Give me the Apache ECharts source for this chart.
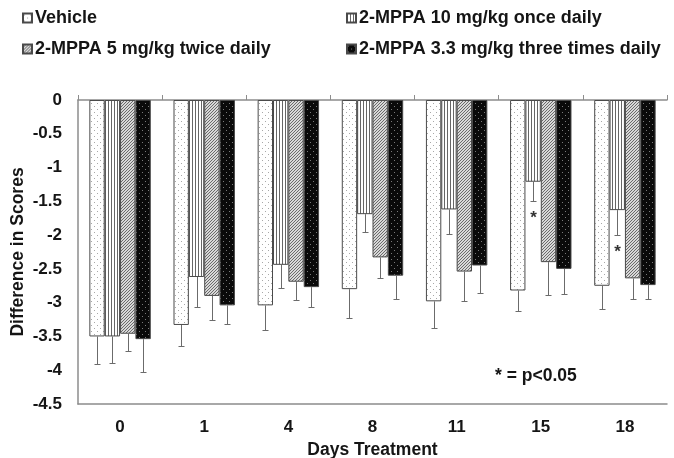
<!DOCTYPE html>
<html>
<head>
<meta charset="utf-8">
<script src="https://cdn.jsdelivr.net/npm/echarts/dist/echarts.min.js"></script>
<style>
html,body{margin:0;padding:0;background:#fff;overflow:hidden;}
#chart{width:674px;height:458px;}
</style>
</head>
<body>
<div id="chart"></div>
<script>
// ---- data ----
var days = ['0', '1', '4', '8', '11', '15', '18'];
var seriesNames = ['Vehicle', '2-MPPA 10 mg/kg once daily', '2-MPPA 5 mg/kg twice daily', '2-MPPA 3.3 mg/kg three times daily'];
var vehicle     = [-3.50, -3.33, -3.04, -2.80, -2.98, -2.82, -2.75];
var vehicleErr  = [0.41, 0.31, 0.36, 0.42, 0.39, 0.31, 0.34];
var once        = [-3.50, -2.62, -2.44, -1.69, -1.62, -1.21, -1.63];
var onceErr     = [0.39, 0.44, 0.34, 0.27, 0.37, 0.28, 0.37];
var twice       = [-3.46, -2.90, -2.69, -2.33, -2.54, -2.40, -2.64];
var twiceErr    = [0.26, 0.36, 0.27, 0.30, 0.43, 0.48, 0.30];
var thrice      = [-3.54, -3.04, -2.77, -2.60, -2.45, -2.50, -2.74];
var thriceErr   = [0.49, 0.28, 0.30, 0.35, 0.41, 0.37, 0.20];
var vehicleSig  = [0, 0, 0, 0, 0, 0, 0];
var onceSig     = [0, 0, 0, 0, 0, 1, 1];
var twiceSig    = [0, 0, 0, 0, 0, 0, 0];
var thriceSig   = [0, 0, 0, 0, 0, 0, 0];
var yTicks = {min: -4.5, max: 0, interval: 0.5};
var noteText = '* = p<0.05';

var allValues = [vehicle, once, twice, thrice];
var allErrs = [vehicleErr, onceErr, twiceErr, thriceErr];
var allSig = [vehicleSig, onceSig, twiceSig, thriceSig];

// ---- patterns ----
function makeTile(w, h, bg, draw) {
  var c = document.createElement('canvas');
  c.width = w; c.height = h;
  var ctx = c.getContext('2d');
  ctx.fillStyle = bg; ctx.fillRect(0, 0, w, h);
  draw(ctx);
  return c;
}
var patVehicle = makeTile(6, 6, '#ffffff', function (ctx) {
  ctx.fillStyle = '#a8a8a8';
  ctx.fillRect(1, 1, 1, 1); ctx.fillRect(4, 4, 1, 1);
});
var patOnce = makeTile(3, 2, '#ffffff', function (ctx) {
  ctx.fillStyle = '#666666';
  ctx.fillRect(0, 0, 1, 2);
});
var patTwice = makeTile(3, 3, '#d8d8d8', function (ctx) {
  ctx.fillStyle = '#6a6a6a';
  ctx.fillRect(2, 0, 1, 1); ctx.fillRect(1, 1, 1, 1); ctx.fillRect(0, 2, 1, 1);
});
var patThrice = makeTile(6, 6, '#0a0a0a', function (ctx) {
  ctx.fillStyle = '#7a7a7a';
  ctx.fillRect(1, 1, 1, 1); ctx.fillRect(4, 4, 1, 1);
});
var patterns = [patVehicle, patOnce, patTwice, patThrice];

var CAT_GAP = 0.27;
var textColor = '#151515';
var fontFam = '"Liberation Sans", Arial, sans-serif';

var series = [];
for (var i = 0; i < 4; i++) {
  series.push({
    name: seriesNames[i],
    type: 'bar',
    xAxisIndex: 0,
    data: allValues[i],
    barGap: '0%',
    barCategoryGap: (CAT_GAP * 100) + '%',
    itemStyle: {
      color: {image: patterns[i], repeat: 'repeat'},
      borderColor: '#4a4a4a',
      borderWidth: 1
    },
    emphasis: {disabled: true},
    z: 2
  });
}

var errData = [];
for (var s = 0; s < 4; s++) {
  for (var j = 0; j < days.length; j++) {
    errData.push([j, allValues[s][j], allErrs[s][j], s, allSig[s][j]]);
  }
}

series.push({
  type: 'custom',
  xAxisIndex: 0,
  data: errData,
  z: 5,
  silent: true,
  renderItem: function (params, api) {
    var j = api.value(0), v = api.value(1), e = api.value(2), s = api.value(3), sig = api.value(4);
    var band = api.size([1, 0])[0];
    var groupW = band * (1 - CAT_GAP);
    var bw = groupW / 4;
    var top = api.coord([j, v]);
    var bot = api.coord([j, v - e]);
    var x = Math.round(top[0] - groupW / 2 + bw * (s + 0.5)) + 0.5;
    var y2 = Math.round(bot[1]) + 0.5;
    var st = {stroke: '#6b6b6b', lineWidth: 1};
    var children = [
      {type: 'line', shape: {x1: x, y1: top[1], x2: x, y2: y2}, style: st},
      {type: 'line', shape: {x1: x - 3, y1: y2, x2: x + 3, y2: y2}, style: st}
    ];
    if (sig) {
      children.push({type: 'text', style: {text: '*', x: x, y: y2 + 17, align: 'center', verticalAlign: 'middle',
        fill: '#333', font: 'bold 17px ' + fontFam}});
    }
    return {type: 'group', children: children};
  }
});

var legends = [];
var legendPos = [[22, 9], [346, 9], [22, 40], [346, 40]];
for (var k = 0; k < 4; k++) {
  legends.push({
    data: [seriesNames[k]],
    left: legendPos[k][0],
    top: legendPos[k][1],
    padding: 0,
    itemWidth: 9,
    itemHeight: 9,
    icon: 'rect',
    selectedMode: false,
    textStyle: {fontSize: 18, fontWeight: 'bold', color: textColor, fontFamily: fontFam, padding: [0, 0, 0, -2]}
  });
}

var chart = echarts.init(document.getElementById('chart'), null, {renderer: 'canvas'});
chart.setOption({
  animation: false,
  backgroundColor: '#ffffff',
  legend: legends,
  grid: {left: 78, right: 7, top: 100, bottom: 54, containLabel: false, outerBoundsMode: 'none'},
  xAxis: [{
    type: 'category',
    data: days,
    position: 'bottom',
    axisLine: {onZero: false, lineStyle: {color: '#8c8c8c', width: 1.5}},
    axisTick: {show: false},
    axisLabel: {margin: 15, fontSize: 17, fontWeight: 'bold', color: textColor, fontFamily: fontFam},
    name: 'Days Treatment',
    nameLocation: 'middle',
    nameGap: 37,
    nameMoveOverlap: false,
    nameTextStyle: {fontSize: 17.5, fontWeight: 'bold', color: textColor, fontFamily: fontFam}
  }, {
    type: 'category',
    data: days,
    position: 'top',
    axisLine: {lineStyle: {color: '#8c8c8c', width: 1.5}},
    axisTick: {show: true, length: 5, lineStyle: {color: '#8c8c8c'}},
    axisLabel: {show: false}
  }],
  yAxis: {
    type: 'value',
    min: yTicks.min,
    max: yTicks.max,
    interval: yTicks.interval,
    axisLine: {show: true, lineStyle: {color: '#8c8c8c', width: 1.5}},
    axisTick: {show: false},
    splitLine: {show: false},
    axisLabel: {margin: 16, fontSize: 17, fontWeight: 'bold', color: textColor, fontFamily: fontFam},
    name: 'Difference in Scores',
    nameLocation: 'middle',
    nameGap: 51,
    nameMoveOverlap: false,
    nameTextStyle: {fontSize: 17.5, fontWeight: 'bold', color: textColor, fontFamily: fontFam}
  },
  graphic: [{
    type: 'text',
    left: 495,
    top: 367,
    style: {text: noteText, fill: textColor, font: 'bold 17.5px ' + fontFam}
  }],
  series: series
});
</script>
</body>
</html>
